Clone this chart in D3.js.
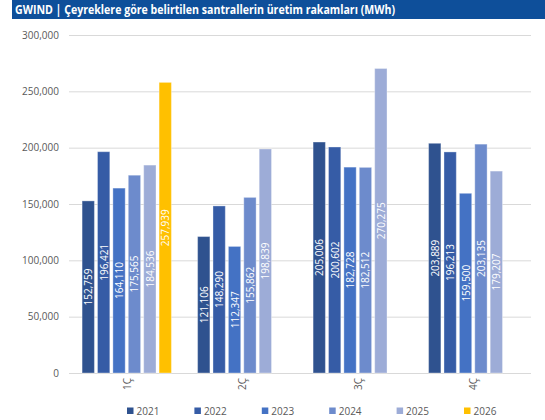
<!DOCTYPE html>
<html>
<head>
<meta charset="utf-8">
<script src="https://cdn.jsdelivr.net/npm/d3@7"></script>
<style>
  html, body { margin: 0; padding: 0; background: #ffffff; }
  svg { display: block; font-family: "Open Sans", "Noto Sans", sans-serif; }
</style>
</head>
<body>
<svg id="chart" width="545" height="420"></svg>
<script>
// Quarterly production of the plants (MWh), one array per year
const quarters = ["1Ç", "2Ç", "3Ç", "4Ç"];
const years = ["2021", "2022", "2023", "2024", "2025", "2026"];
const v2021 = [152759, 121106, 205006, 203889];
const v2022 = [196421, 148290, 200602, 196213];
const v2023 = [164110, 112347, 182728, 159500];
const v2024 = [175565, 155862, 182512, 203135];
const v2025 = [184536, 198839, 270275, 179207];
const v2026 = [257939, null, null, null];
const yTicks = [0, 50000, 100000, 150000, 200000, 250000, 300000];
const titleText = "GWIND | Çeyreklere göre belirtilen santrallerin üretim rakamları (MWh)";

const seriesValues = [v2021, v2022, v2023, v2024, v2025, v2026];
const colors = ["#2f528f", "#365ca6", "#4472c4", "#6d8bcc", "#9dacd7", "#ffc000"];

const svg = d3.select("#chart");
const W = 545, H = 420;
const plot = { left: 69, right: 531, top: 35, bottom: 373 };

// Title band
svg.append("rect")
  .attr("x", 12).attr("y", 0)
  .attr("width", W - 12).attr("height", 19)
  .attr("fill", "#0e4f9a");
svg.append("text")
  .attr("x", 15).attr("y", 14)
  .attr("fill", "#ffffff")
  .attr("font-size", 12.5)
  .attr("font-weight", "bold")
  .attr("textLength", 380)
  .attr("lengthAdjust", "spacingAndGlyphs")
  .text(titleText);

// Scales
const x0 = d3.scaleBand().domain(quarters)
  .range([plot.left, plot.right]).paddingInner(0.2).paddingOuter(0.1);
const x1 = d3.scaleBand().domain(years)
  .range([0, x0.bandwidth()]).paddingInner(0.2).paddingOuter(0.1);
const y = d3.scaleLinear().domain([0, 300000]).range([plot.bottom, plot.top]);

// Horizontal gridlines with value labels
const fmt = d3.format(",");
const yAxis = d3.axisLeft(y).tickValues(yTicks).tickFormat(fmt)
  .tickSize(-(plot.right - plot.left)).tickPadding(10);
const gy = svg.append("g")
  .attr("transform", `translate(${plot.left},0)`)
  .call(yAxis);
gy.select(".domain").remove();
gy.selectAll(".tick line").attr("stroke", "#d9d9d9").attr("stroke-width", 1);
gy.selectAll(".tick text")
  .attr("fill", "#595959")
  .attr("font-size", 10)
  .attr("font-family", "'Open Sans', sans-serif");

// Bars, one group per quarter
const rows = quarters.map((q, i) => ({
  q,
  items: years.map((yr, s) => ({ yr, s, v: seriesValues[s][i] })).filter(d => d.v != null)
}));

const groups = svg.append("g").selectAll("g")
  .data(rows).join("g")
  .attr("transform", d => `translate(${x0(d.q)},0)`);

groups.selectAll("rect")
  .data(d => d.items).join("rect")
  .attr("x", d => x1(d.yr))
  .attr("y", d => y(d.v))
  .attr("width", x1.bandwidth())
  .attr("height", d => y(0) - y(d.v))
  .attr("fill", d => colors[d.s])
  .attr("stroke", "#ffffff")
  .attr("stroke-opacity", 0.35)
  .attr("stroke-width", 1);

// Value labels centered inside each bar, reading upward
groups.selectAll("text.val")
  .data(d => d.items).join("text")
  .attr("class", "val")
  .attr("transform", d => {
    const cx = x1(d.yr) + x1.bandwidth() / 2;
    const cy = (y(d.v) + y(0)) / 2;
    return `translate(${cx},${cy}) rotate(-90)`;
  })
  .attr("text-anchor", "middle")
  .attr("dominant-baseline", "central")
  .attr("fill", "#ffffff")
  .attr("font-size", 10)
  .text(d => fmt(d.v));

// Category axis labels, rotated
const xAxis = d3.axisBottom(x0).tickSize(0).tickPadding(0);
const gx = svg.append("g")
  .attr("transform", `translate(0,${plot.bottom})`)
  .call(xAxis);
gx.select(".domain").remove();
gx.selectAll(".tick text")
  .attr("fill", "#595959")
  .attr("font-size", 10)
  .attr("font-family", "'Open Sans', sans-serif")
  .attr("text-anchor", "end")
  .attr("dominant-baseline", "central")
  .attr("dy", null)
  .attr("y", 0)
  .attr("transform", "translate(0,5) rotate(-90)");

// Legend
const legendX = d3.scalePoint().domain(years).range([127, 464]);
const lg = svg.append("g").selectAll("g")
  .data(years).join("g")
  .attr("transform", d => `translate(${legendX(d)},411)`);
lg.append("rect")
  .attr("x", 0).attr("y", -3.5)
  .attr("width", 6.5).attr("height", 6.5)
  .attr("fill", (d, i) => colors[i]);
lg.append("text")
  .attr("x", 9.5).attr("y", 0)
  .attr("dominant-baseline", "central")
  .attr("fill", "#595959")
  .attr("font-size", 10)
  .text(d => d);
</script>
</body>
</html>
